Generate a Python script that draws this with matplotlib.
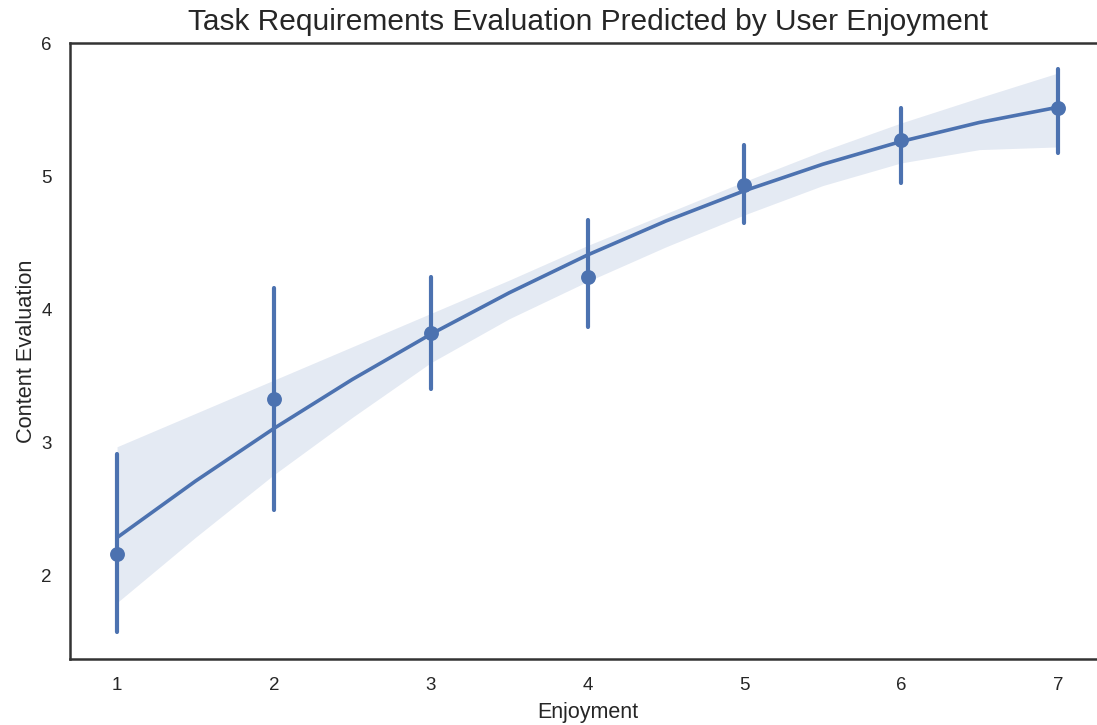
import matplotlib
matplotlib.use("Agg")
import matplotlib.pyplot as plt
import seaborn as sns

sns.set_theme(style="white")
plt.rcParams['font.family'] = ['Liberation Sans', 'DejaVu Sans']

# Observed group means and 95% CIs
enjoyment = [1, 2, 3, 4, 5, 6, 7]
mean_eval = [2.165, 3.328, 3.824, 4.244, 4.934, 5.272, 5.512]
ci_low = [1.58, 2.495, 3.403, 3.869, 4.649, 4.949, 5.174]
ci_high = [2.915, 4.161, 4.244, 4.672, 5.234, 5.512, 5.805]

# Fitted (order-2) regression curve and its confidence band
fit_x = [1.0, 1.5, 2.0, 2.5, 3.0, 3.5, 4.0, 4.5, 5.0, 5.5, 6.0, 6.5, 7.0]
fit_y = [2.288, 2.712, 3.107, 3.475, 3.814, 4.125, 4.409, 4.664, 4.891, 5.090, 5.261, 5.404, 5.518]
band_high = [2.97, 3.22, 3.47, 3.72, 3.97, 4.22, 4.48, 4.72, 4.96, 5.19, 5.40, 5.59, 5.775]
band_low = [1.80, 2.29, 2.76, 3.19, 3.60, 3.93, 4.21, 4.47, 4.71, 4.93, 5.10, 5.20, 5.22]

color = "#4C72B0"
W, H = 1097, 725
fig = plt.figure(figsize=(W / 100, H / 100), dpi=100)
ax = fig.add_axes([70 / W, (H - 659) / H, (1105 - 70) / W, (659 - 43) / H])

ax.fill_between(fit_x, band_low, band_high, color=color, alpha=0.15, linewidth=0)
ax.plot(fit_x, fit_y, color=color, linewidth=2.6, solid_capstyle="round")
ax.vlines(enjoyment, ci_low, ci_high, color=color, linewidth=3.0, capstyle="round")
ax.scatter(enjoyment, mean_eval, s=115, color=color, zorder=3, linewidths=0)

ax.set_xlim(0.7, 7.3)
ax.set_ylim(1.377, 6.0)
ax.set_xticks(enjoyment)
ax.set_yticks([2, 3, 4, 5, 6])
ax.tick_params(length=0, pad=13, labelsize=13.5, colors="0.15")
for sp in ax.spines.values():
    sp.set_color("0.2")
    sp.set_linewidth(1.8)

ax.set_xlabel("Enjoyment", fontsize=15.5, color="0.15", labelpad=6)
ax.set_ylabel("Content Evaluation", fontsize=15.7, color="0.15", labelpad=3)
ax.set_title("Task Requirements Evaluation Predicted by User Enjoyment", fontsize=21.5, color="0.15", pad=9)

fig.savefig("out.png", dpi=100)
